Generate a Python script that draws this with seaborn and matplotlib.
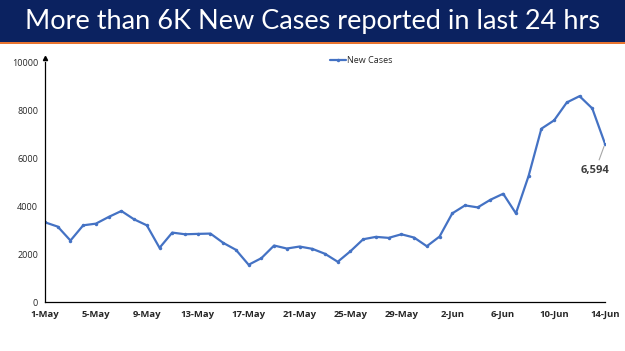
import numpy as np
import pandas as pd
import matplotlib
matplotlib.use("Agg")
import matplotlib.pyplot as plt
from matplotlib.patches import Rectangle
import seaborn as sns

# daily new cases, 1-May .. 14-Jun
dates = pd.date_range("2021-05-01", "2021-06-14", freq="D")
new_cases = [
    3320, 3141, 2560, 3195, 3265, 3543, 3792, 3444, 3195, 2257,
    2892, 2822, 2838, 2851, 2465, 2174, 1552, 1826, 2353, 2228,
    2311, 2216, 2008, 1676, 2116, 2614, 2714, 2672, 2822, 2685,
    2324, 2726, 3693, 4025, 3942, 4261, 4510, 3693, 5257, 7220,
    7568, 8315, 8577, 8066, 6594,
]
title = "More than 6K New Cases reported in last 24 hrs"
series_name = "New Cases"
y_ticks = [0, 2000, 4000, 6000, 8000, 10000]

df = pd.DataFrame({"date": dates, series_name: new_cases})

sns.set_theme(style="white")
plt.rcParams["font.family"] = ["Open Sans", "DejaVu Sans"]

fig = plt.figure(figsize=(6.25, 3.51), dpi=100)

# title band
fig.patches.append(Rectangle((0, 1 - 42 / 351), 1, 42 / 351, transform=fig.transFigure,
                             facecolor="#0b2260", edgecolor="none", zorder=0))
fig.patches.append(Rectangle((0, 1 - 44 / 351), 1, 2 / 351, transform=fig.transFigure,
                             facecolor="#e8742f", edgecolor="none", zorder=0))
fig.text(0.5, 1 - 21 / 351, title, color="white", ha="center", va="center",
         fontsize=19.5, family=["Lato", "DejaVu Sans"])

ax = fig.add_axes([45 / 625, (351 - 302) / 351, 560 / 625, 240 / 351])
sns.lineplot(data=df, x="date", y=series_name, ax=ax, color="#4472c4",
             linewidth=1.6, marker="o", markersize=2.5, markeredgewidth=0,
             label=series_name)

ax.set_xlim(dates[0], dates[-1])
ax.set_ylim(0, 10000)
ax.set_yticks(y_ticks)
ax.set_yticklabels([str(v) for v in y_ticks], fontsize=6.5)
ax.set_xticks(dates[::4])
ax.set_xticklabels([d.strftime("%-d-%b") for d in dates[::4]], fontsize=6.8,
                   fontweight="bold")
ax.set_xlabel("")
ax.set_ylabel("")
ax.tick_params(axis="both", length=3, width=0.8, color="black", pad=2, direction="out")
ax.tick_params(axis="x", pad=3)

for s in ["top", "right"]:
    ax.spines[s].set_visible(False)
for s in ["left", "bottom"]:
    ax.spines[s].set_color("black")
    ax.spines[s].set_linewidth(0.9)
ax.plot(0, 1.015, marker="^", color="black", markersize=3,
        transform=ax.transAxes, clip_on=False)

leg = ax.legend(loc="upper center", bbox_to_anchor=(0.565, 1.06), frameon=False,
                fontsize=6.5, handlelength=1.8, handletextpad=0.1)
for t in leg.get_texts():
    t.set_color("#262626")

# data label for last point
ax.annotate(f"{new_cases[-1]:,}", xy=(dates[-1], new_cases[-1]),
            xytext=(dates[-2] + pd.Timedelta(hours=6), 5500),
            fontsize=8, fontweight="bold", color="#404040", ha="center", va="center",
            arrowprops=dict(arrowstyle="-", color="#a6a6a6", lw=0.8, shrinkA=1, shrinkB=2))

fig.savefig("out.png", dpi=100)
